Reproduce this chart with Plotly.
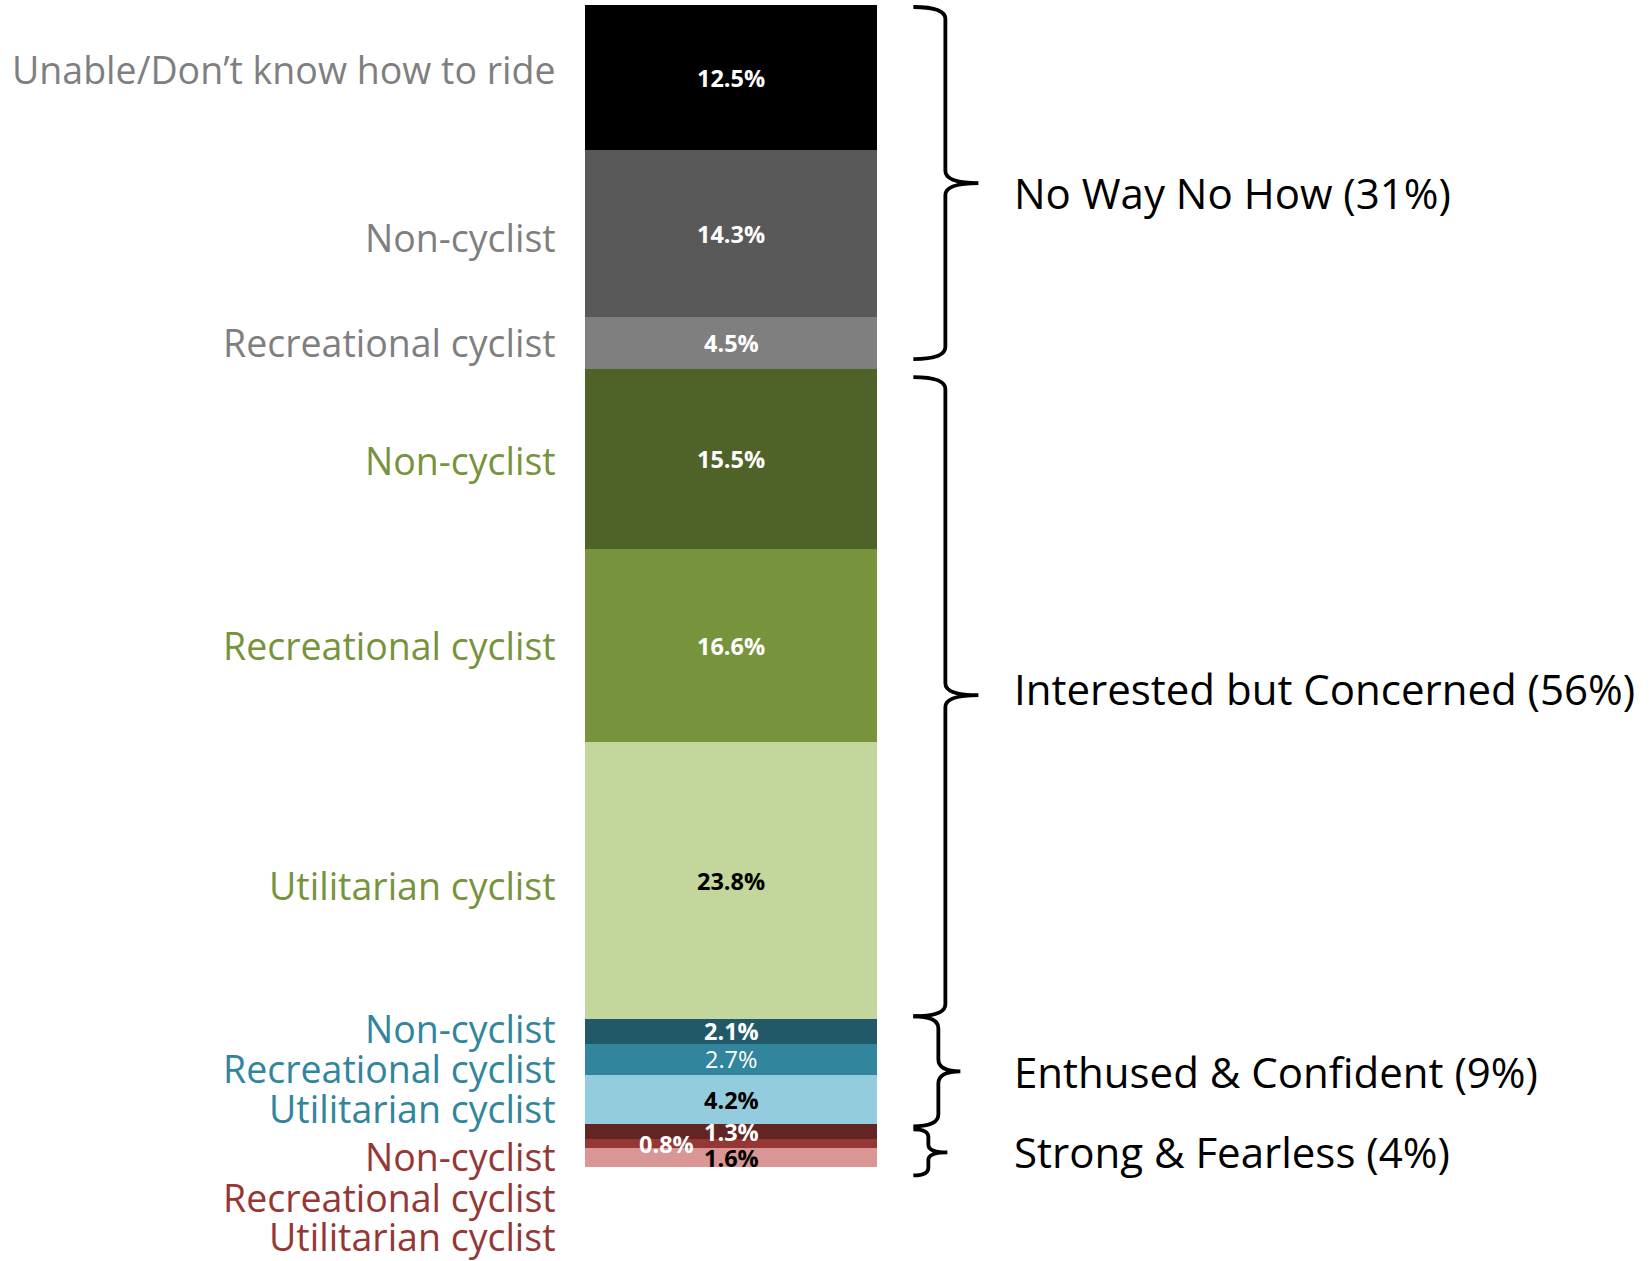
import plotly.graph_objects as go

# ---------------- data ----------------
categories = [
    "Unable/Don’t know how to ride", "Non-cyclist", "Recreational cyclist",
    "Non-cyclist", "Recreational cyclist", "Utilitarian cyclist",
    "Non-cyclist", "Recreational cyclist", "Utilitarian cyclist",
    "Non-cyclist", "Recreational cyclist", "Utilitarian cyclist",
]
values = [12.5, 14.3, 4.5, 15.5, 16.6, 23.8, 2.1, 2.7, 4.2, 1.3, 0.8, 1.6]
value_labels = ["12.5%", "14.3%", "4.5%", "15.5%", "16.6%", "23.8%",
                "2.1%", "2.7%", "4.2%", "1.3%", "0.8%", "1.6%"]
groups = ["No Way No How (31%)", "Interested but Concerned (56%)",
          "Enthused & Confident (9%)", "Strong & Fearless (4%)"]

# ---------------- styles ----------------
seg_colors = ["#000000", "#595959", "#7f7f7f",
              "#4f6228", "#77933c", "#c3d69b",
              "#215968", "#31859c", "#93cddd",
              "#632523", "#953735", "#d99694"]
cat_colors = ["#7f7f7f"] * 3 + ["#77933c"] * 3 + ["#31859c"] * 3 + ["#953735"] * 3
val_colors = ["white", "white", "white", "white", "white", "black",
              "white", "white", "black", "white", "white", "black"]
val_bold = [True, True, True, True, True, True, True, False, True, True, True, True]
val_xshift = [0, 0, 0, 0, 0, 0, 0, 0, 0, 0, -65, 0]

W, H = 1652, 1261
L, R, T, B = 585, 876.7, 5, 1166.7

def px_x(x):
    return (x - L) / (R - L)

def px_y(y):
    return 1 - (y - T) / (B - T)

# label positions (pixel centres)
cat_label_y = [69, 237, 342, 460, 645, 885, 1028, 1068, 1108, 1156, 1197, 1236]
group_text_y = [192, 688, 1071, 1151]
# brackets: (y_top, y_tip, y_bottom, stem_x, tip_x)
brackets = [(7, 183, 359, 945, 978),
            (377, 695, 1016, 945, 978),
            (1016, 1071, 1126, 938, 960),
            (1129, 1152, 1175, 928, 947)]
bracket_end_x = 913

starts = []
acc = 0
for v in values:
    starts.append(acc)
    acc += v
total = acc

fig = go.Figure(go.Bar(
    x=[0] * len(values), y=values, base=starts, width=1,
    marker=dict(color=seg_colors, line=dict(width=0)),
    hoverinfo="skip",
))

ann = []
for i, (v, s) in enumerate(zip(values, starts)):
    t = value_labels[i]
    if val_bold[i]:
        t = "<b>" + t + "</b>"
    ann.append(dict(x=0, y=s + v / 2, xref="x", yref="y", text=t, showarrow=False,
                    xshift=val_xshift[i],
                    font=dict(family="Open Sans", size=23.5, color=val_colors[i]),
                    xanchor="center", yanchor="middle"))

for i, c in enumerate(categories):
    ann.append(dict(x=px_x(558), y=px_y(cat_label_y[i]), xref="paper", yref="paper",
                    text=c, showarrow=False, xanchor="right", yanchor="middle",
                    font=dict(family="Open Sans", size=37.5, color=cat_colors[i])))

for i, g in enumerate(groups):
    ann.append(dict(x=px_x(1012), y=px_y(group_text_y[i]), xref="paper", yref="paper",
                    text=g, showarrow=False, xanchor="left", yanchor="middle",
                    font=dict(family="Open Sans", size=42, color="black")))

shapes = []
for (y0, ym, y1, sx, tx) in brackets:
    r0 = min(12, (ym - y0) / 3)
    r1 = min(12, (y1 - ym) / 3)
    pts = [
        f"M {px_x(bracket_end_x)},{px_y(y0)}",
        f"Q {px_x(sx)},{px_y(y0)} {px_x(sx)},{px_y(y0 + r0)}",
        f"L {px_x(sx)},{px_y(ym - r0)}",
        f"Q {px_x(sx)},{px_y(ym)} {px_x(tx)},{px_y(ym)}",
        f"Q {px_x(sx)},{px_y(ym)} {px_x(sx)},{px_y(ym + r1)}",
        f"L {px_x(sx)},{px_y(y1 - r1)}",
        f"Q {px_x(sx)},{px_y(y1)} {px_x(bracket_end_x)},{px_y(y1)}",
    ]
    shapes.append(dict(type="path", xref="paper", yref="paper", path=" ".join(pts),
                       line=dict(color="black", width=3.8)))

fig.update_layout(
    width=W, height=H,
    margin=dict(l=L, r=W - R, t=T, b=H - B, pad=0),
    plot_bgcolor="white", paper_bgcolor="white",
    showlegend=False,
    xaxis=dict(range=[-0.5, 0.5], visible=False, fixedrange=True),
    yaxis=dict(range=[total, 0], visible=False, fixedrange=True),
    annotations=ann, shapes=shapes,
    bargap=0,
)

fig.write_html("out.html", config={"displayModeBar": False},
               post_script="document.body.style.margin='0';document.body.style.overflow='hidden';")
